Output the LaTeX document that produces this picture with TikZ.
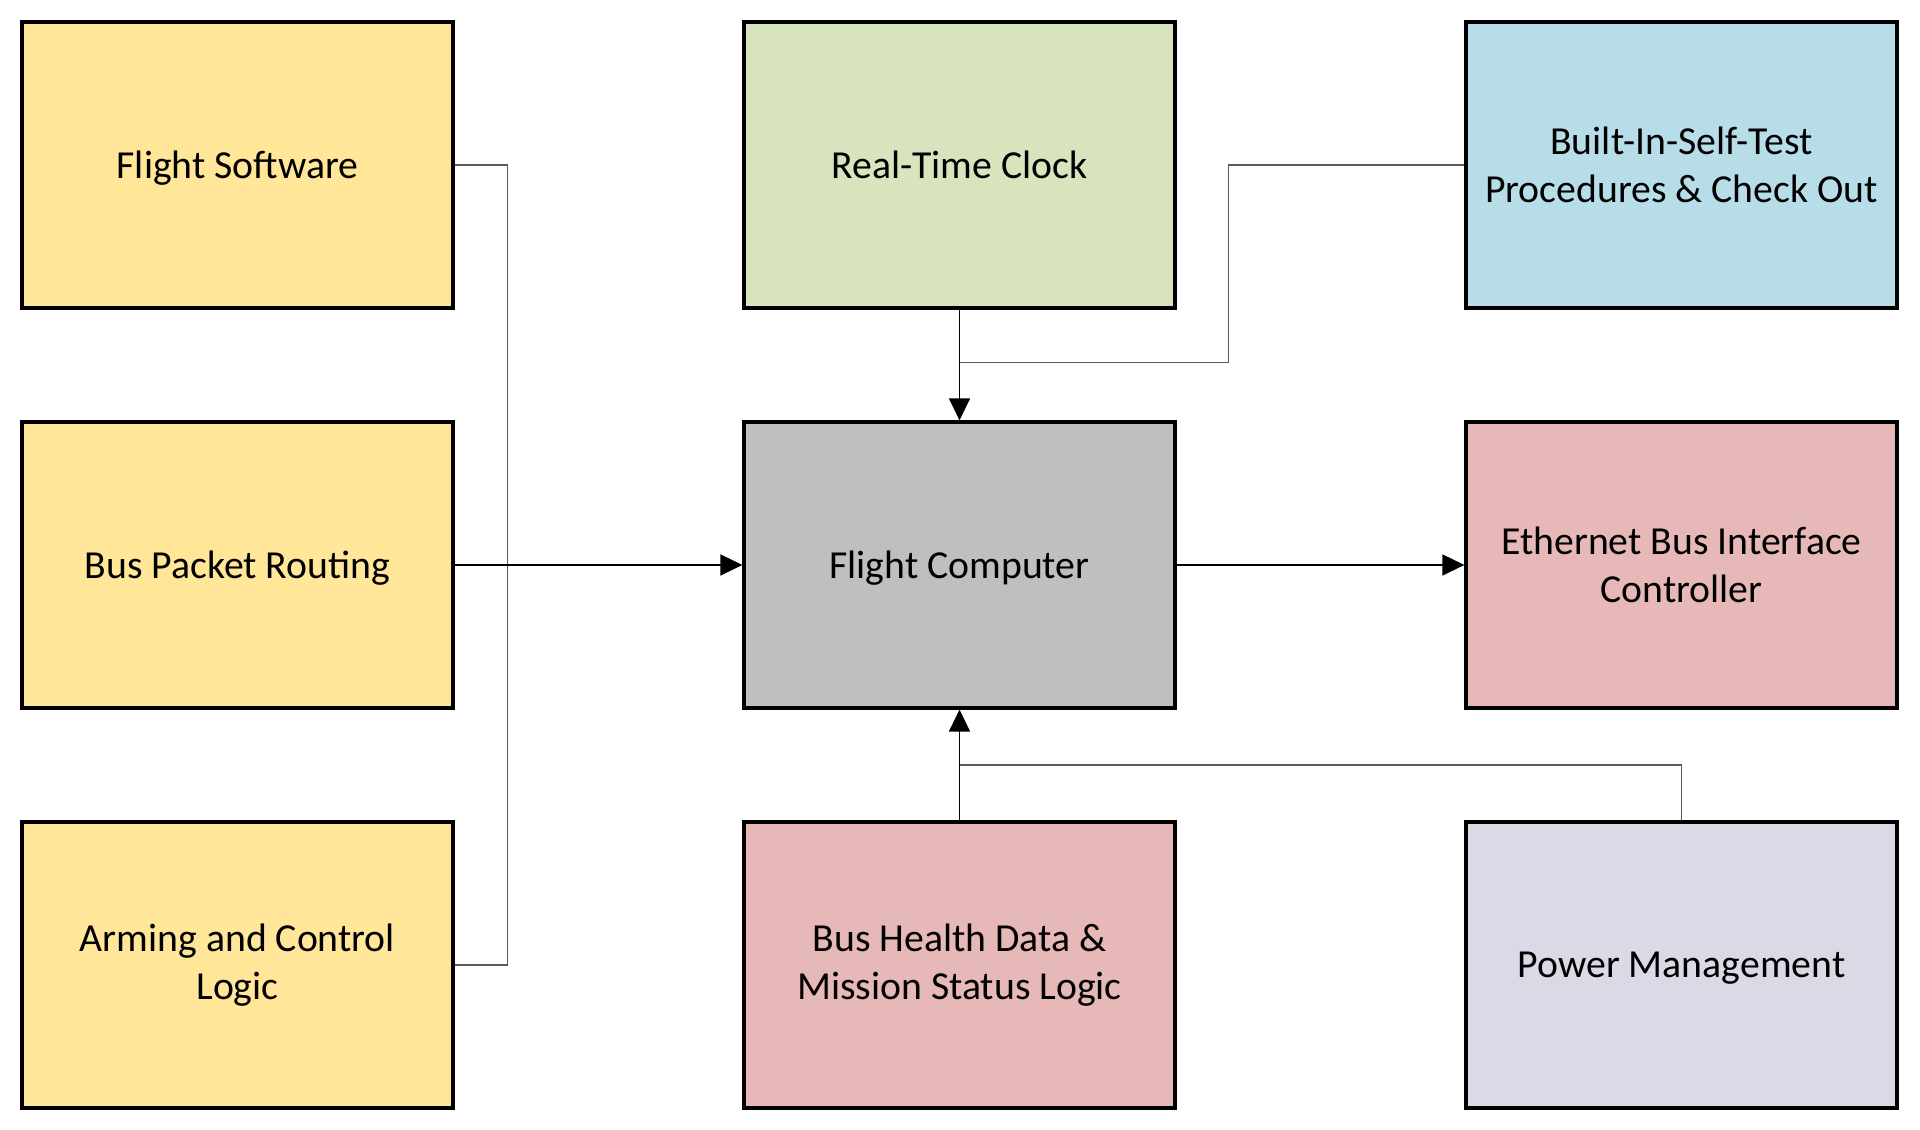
\documentclass[tikz,border=0pt]{standalone}
\usepackage{fontspec}
\setmainfont{Carlito}
\usepackage{tikz}
\usetikzlibrary{arrows.meta,calc}

\definecolor{swyellow}{HTML}{FFE699}
\definecolor{clkgreen}{HTML}{D7E4BD}
\definecolor{bistblue}{HTML}{B7DDE8}
\definecolor{fcgray}{HTML}{BFBFBF}
\definecolor{buspink}{HTML}{E6B9B8}
\definecolor{pwrlilac}{HTML}{DDD8E6}
\definecolor{feedgray}{HTML}{5A5A5A}

\begin{document}
\begin{tikzpicture}[
    unit/.style={draw=black, line width=0.9pt, minimum width=4.31cm,
      minimum height=2.86cm, align=center, inner sep=2pt,
      font=\fontsize{11.3}{13.6}\selectfont},
    flat/.style={text depth=0pt},
    feed/.style={draw=feedgray, line width=0.4pt},
    flow/.style={draw=black, line width=0.4pt,
      -{Triangle[length=0.22cm,width=0.21cm]}}
  ]
  \useasboundingbox (0,0) rectangle (19.2,11.3);

  % left column
  \node [unit, flat, fill=swyellow] (fsw) at (2.375,9.65) {Flight Software};
  \node [unit, flat, fill=swyellow] (bpr) at (2.375,5.65) {Bus Packet Routing};
  \node [unit, fill=swyellow] (arm) at (2.375,1.65) {Arming and Control\\Logic};

  % middle column
  \node [unit, flat, fill=clkgreen] (rtc) at (9.595,9.65) {Real-Time Clock};
  \node [unit, flat, fill=fcgray] (fc) at (9.595,5.65) {Flight Computer};
  \node [unit, fill=buspink] (bhd) at (9.595,1.65) {Bus Health Data \&\\Mission Status Logic};

  % right column
  \node [unit, fill=bistblue] (bist) at (16.815,9.65) {Built-In-Self-Test\\Procedures \& Check Out};
  \node [unit, fill=buspink] (eth) at (16.815,5.65) {Ethernet Bus Interface\\Controller};
  \node [unit, flat, fill=pwrlilac] (pwr) at (16.815,1.65) {Power Management};

  \coordinate (topjoin) at ($(rtc.south)!0.48!(fc.north)$);
  \coordinate (botjoin) at ($(fc.south)!0.5!(bhd.north)$);

  % software bus on the left
  \draw [feed] (fsw.east) -- ++(0.53,0) |- (arm.east);
  \draw [flow] (bpr.east) -- (fc.west);

  % clock and self test
  \draw [feed] (bist.west) -- ++(-2.36,0) |- (topjoin);
  \draw [flow] (rtc.south) -- (fc.north);

  % outputs and health
  \draw [flow] (fc.east) -- (eth.west);
  \draw [feed] (pwr.north) |- (botjoin);
  \draw [flow] (bhd.north) -- (fc.south);
\end{tikzpicture}
\end{document}
